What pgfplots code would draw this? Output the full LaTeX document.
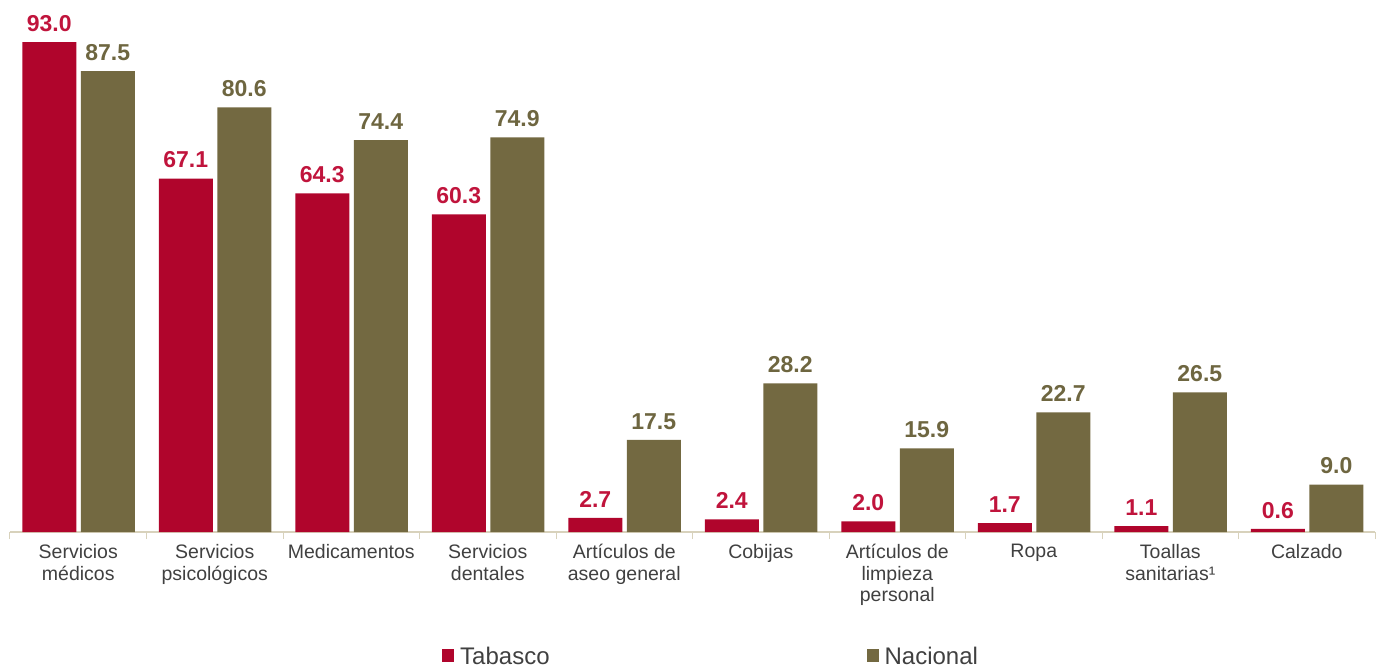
\documentclass[border=0pt]{standalone}
\usepackage{pgfplots}
\pgfplotsset{compat=1.18}
\usepackage{fontspec}
\setmainfont{Liberation Sans}
\definecolor{tab}{HTML}{B0052C}
\definecolor{tablab}{HTML}{C0143C}
\definecolor{nac}{HTML}{736941}
\definecolor{nactxt}{HTML}{6E6640}
\definecolor{axc}{HTML}{D8D2BC}
\definecolor{txt}{HTML}{404040}
\begin{document}
\begin{tikzpicture}
\begin{axis}[name=ax,
  scale only axis, width=1365pt, height=532pt,
  ymin=0, ymax=101, xmin=-0.5, xmax=9.5, enlargelimits=false, clip=false,
  axis y line=none, axis x line*=bottom,
  axis line style={draw=axc, line width=1.2pt, -},
  xtick={0,...,9},
  xticklabels={{Servicios\\médicos},{Servicios\\psicológicos},{Medicamentos},{Servicios\\dentales},{Artículos de\\aseo general},{Cobijas},{Artículos de\\limpieza\\personal},{Ropa},{Toallas\\sanitarias¹},{Calzado}},
  major tick length=0pt,
  extra x ticks={-0.5,0.5,...,9.5}, extra x tick labels={},
  extra x tick style={major tick length=7pt, tick align=outside, tick style={draw=axc, line width=1pt}},
  x tick label style={font=\fontsize{19.5}{21.5}\selectfont, text=txt, align=center, anchor=north, yshift=-9pt},
  ybar, bar width=54pt,
  nodes near coords={\pgfmathprintnumber[fixed,fixed zerofill,precision=1,assume math mode=true]{\pgfplotspointmeta}},
  every node near coord/.append style={font=\bfseries\fontsize{23}{23}\selectfont, anchor=south, yshift=7pt},
  legend style={draw=none, fill=none, legend columns=2, font=\fontsize{24}{24}\selectfont, text=txt,
    /tikz/every odd column/.append style={column sep=4pt},
    /tikz/every even column/.append style={column sep=315pt},
    at={(0.5136,-0.235)}, anchor=center},
  legend image code/.code={\fill[#1] (0pt,-5pt) rectangle (12pt,8pt);},
]
\addplot[fill=tab, draw=none, bar shift=-29pt, every node near coord/.append style={text=tablab}]
  coordinates {(0,93.0) (1,67.1) (2,64.3) (3,60.3) (4,2.7) (5,2.4) (6,2.0) (7,1.7) (8,1.1) (9,0.6)};
\addplot[fill=nac, draw=none, bar shift=29.5pt, every node near coord/.append style={text=nactxt}]
  coordinates {(0,87.5) (1,80.6) (2,74.4) (3,74.9) (4,17.5) (5,28.2) (6,15.9) (7,22.7) (8,26.5) (9,9.0)};
\legend{Tabasco,Nacional}
\end{axis}
\path (ax.south west) ++(-10pt,-134pt) rectangle ++(1383pt,666pt);
\end{tikzpicture}
\end{document}
